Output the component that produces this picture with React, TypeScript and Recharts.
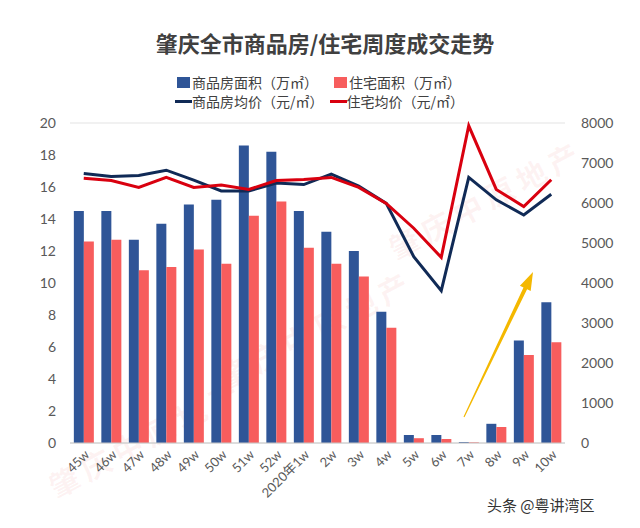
import React from 'react';
import { ComposedChart, Bar, Line, XAxis, YAxis, CartesianGrid } from 'recharts';

const weeks = ['45w', '46w', '47w', '48w', '49w', '50w', '51w', '52w', '2020年1w', '2w', '3w', '4w', '5w', '6w', '7w', '8w', '9w', '10w'];
const spfArea = [14.5, 14.5, 12.7, 13.7, 14.9, 15.2, 18.6, 18.2, 14.5, 13.2, 12.0, 8.2, 0.5, 0.5, 0.06, 1.2, 6.4, 8.8];
const zzArea = [12.6, 12.7, 10.8, 11.0, 12.1, 11.2, 14.2, 15.1, 12.2, 11.2, 10.4, 7.2, 0.3, 0.25, 0.04, 1.0, 5.5, 6.3];
const spfPrice = [6740, 6660, 6690, 6820, 6570, 6300, 6300, 6500, 6460, 6720, 6420, 5990, 4660, 3810, 6640, 6080, 5700, 6220];
const zzPrice = [6620, 6560, 6390, 6640, 6390, 6450, 6340, 6560, 6590, 6640, 6390, 5990, 5370, 4640, 7930, 6340, 5910, 6580];
const leftTicks = [0, 2, 4, 6, 8, 10, 12, 14, 16, 18, 20];
const rightTicks = [0, 1000, 2000, 3000, 4000, 5000, 6000, 7000, 8000];

const data = weeks.map((week, i) => ({
  week,
  spfArea: spfArea[i],
  zzArea: zzArea[i],
  spfPrice: spfPrice[i],
  zzPrice: zzPrice[i],
}));

const BLUE = '#2f5597';
const PINK = '#f75d5d';
const NAVY = '#102a56';
const RED = '#d9000f';
const FONT = "Lato, 'Noto Sans CJK SC', sans-serif";
const CJK = "'Noto Sans CJK SC', sans-serif";

const tickStyle = { fill: '#595959', fontSize: 14, fontFamily: FONT };

const legendText: React.CSSProperties = { fontSize: 14, color: '#404040', fontFamily: CJK, whiteSpace: 'nowrap' };

// faint watermark spots, kept inside the frame
const marks = [
  { x: 40, y: 468 },
  { x: 210, y: 360 },
  { x: 380, y: 230 },
];

export default function App() {
  return (
    <div style={{ position: 'absolute', left: 0, top: 0, width: 640, height: 528, background: '#fff', overflow: 'hidden' }}>
      {marks.map((m, i) => (
        <div
          key={i}
          style={{
            position: 'absolute',
            left: m.x,
            top: m.y,
            fontSize: 30,
            fontWeight: 700,
            fontFamily: CJK,
            color: 'rgba(235, 120, 120, 0.09)',
            transform: 'rotate(-28deg)',
            transformOrigin: 'left top',
            whiteSpace: 'nowrap',
            letterSpacing: 6,
          }}
        >
          肇庆中原地产
        </div>
      ))}

      <div style={{ position: 'absolute', left: 0, top: 26, width: 650, textAlign: 'center', fontSize: 22, fontWeight: 700, fontFamily: CJK, color: '#404040' }}>
        肇庆全市商品房/住宅周度成交走势
      </div>

      {/* legend */}
      <div style={{ position: 'absolute', left: 177, top: 72, display: 'flex', alignItems: 'center' }}>
        <span style={{ width: 13, height: 11, background: BLUE, display: 'inline-block', marginRight: 2 }} />
        <span style={legendText}>商品房面积（万㎡）</span>
        <span style={{ width: 13, height: 11, background: PINK, display: 'inline-block', marginLeft: 16, marginRight: 2 }} />
        <span style={legendText}>住宅面积（万㎡）</span>
      </div>
      <div style={{ position: 'absolute', left: 175, top: 91, display: 'flex', alignItems: 'center' }}>
        <span style={{ width: 17, height: 3, background: NAVY, display: 'inline-block' }} />
        <span style={legendText}>商品房均价（元/㎡）</span>
        <span style={{ width: 17, height: 3, background: RED, display: 'inline-block', marginLeft: 6 }} />
        <span style={legendText}>住宅均价（元/㎡）</span>
      </div>

      <div style={{ position: 'absolute', left: 0, top: 0 }}>
        <ComposedChart width={640} height={528} data={data} margin={{ top: 123, right: 0, bottom: 0, left: 0 }} barCategoryGap="14%" barGap={0}>
          <CartesianGrid vertical={false} stroke="#e3e3e3" />
          <XAxis
            dataKey="week"
            interval={0}
            angle={-45}
            textAnchor="end"
            height={85}
            tickLine={false}
            tickMargin={0}
            stroke="#c8c8c8"
            tick={{ ...tickStyle, fontSize: 13 }}
          />
          <YAxis
            yAxisId="left"
            domain={[0, 20]}
            ticks={leftTicks}
            width={70}
            axisLine={false}
            tickLine={false}
            tickMargin={8}
            tick={tickStyle}
          />
          <YAxis
            yAxisId="right"
            orientation="right"
            domain={[0, 8000]}
            ticks={rightTicks}
            width={75}
            axisLine={false}
            tickLine={false}
            tickMargin={10}
            tick={{ ...tickStyle, textAnchor: 'start' }}
          />
          <Bar yAxisId="left" dataKey="spfArea" fill={BLUE} isAnimationActive={false} />
          <Bar yAxisId="left" dataKey="zzArea" fill={PINK} isAnimationActive={false} />
          <Line yAxisId="right" dataKey="spfPrice" stroke={NAVY} strokeWidth={3} dot={false} type="linear" isAnimationActive={false} />
          <Line yAxisId="right" dataKey="zzPrice" stroke={RED} strokeWidth={3} dot={false} type="linear" isAnimationActive={false} />
        </ComposedChart>
      </div>

      {/* yellow arrow annotation */}
      <svg width={640} height={528} style={{ position: 'absolute', left: 0, top: 0, pointerEvents: 'none' }}>
        <polygon
          points="463.5,416.8 523.5,287.4 519.9,285.7 533,272 530.7,290.9 527.1,289.2 464.5,417.2"
          fill="#f4b800"
        />
      </svg>

      <div style={{ position: 'absolute', left: 487, top: 494, fontSize: 15, fontFamily: CJK, color: '#333', whiteSpace: 'nowrap' }}>
        头条 @粤讲湾区
      </div>
    </div>
  );
}
